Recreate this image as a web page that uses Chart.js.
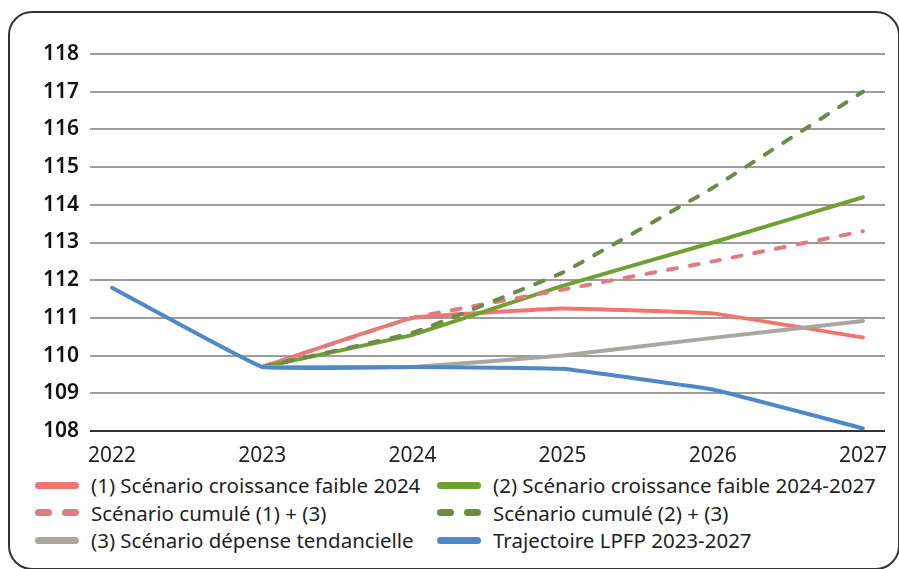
<!DOCTYPE html>
<html lang="fr">
<head>
<meta charset="UTF-8">
<title>Scénarios</title>
<script src="https://cdn.jsdelivr.net/npm/chart.js"></script>
<style>
  html, body { margin: 0; padding: 0; background: #fff; }
  body { width: 899px; height: 569px; position: relative; overflow: hidden; font-family: "Noto Sans", sans-serif; }
  .frame { position: absolute; left: 8px; top: 11px; width: 892px; height: 559px; border: 2.5px solid #333; border-radius: 24px; box-sizing: border-box; }
  #wrap { position: absolute; left: 0; top: 0; width: 899px; height: 471px; }
  .legend { position: absolute; left: 0; top: 472px; width: 899px; }
  .item { position: absolute; height: 26px; display: flex; align-items: center; font-size: 20.5px; color: #222; white-space: nowrap; }
  .sw { width: 44px; height: 7px; margin-right: 12px; display: flex; justify-content: space-between; }
  .sw span { height: 7px; border-radius: 4px; }
</style>
</head>
<body>
<div class="frame"></div>
<div id="wrap"><canvas id="chart"></canvas></div>
<div class="legend" id="legend"></div>
<script>
  // années et séries (indice)
  const years = [2022, 2023, 2024, 2025, 2026, 2027];
  const croissance2024 = [null, 109.7, 111.0, 111.25, 111.12, 110.48];
  const croissance2427 = [null, 109.7, 110.55, 111.85, 113.0, 114.2];
  const cumule13 = [null, 109.7, 111.0, 111.75, 112.5, 113.3];
  const cumule23 = [null, 109.7, 110.6, 112.2, 114.45, 117.0];
  const tendancielle = [null, 109.7, 109.7, 110.0, 110.47, 110.92];
  const lpfp = [111.8, 109.7, 109.7, 109.65, 109.1, 108.07];
  const yTicks = [108, 109, 110, 111, 112, 113, 114, 115, 116, 117, 118];

  const series = [
    { label: '(1) Scénario croissance faible 2024', data: croissance2024, color: '#ef7570', dash: false },
    { label: '(2) Scénario croissance faible 2024-2027', data: croissance2427, color: '#6fa032', dash: false },
    { label: 'Scénario cumulé (1) + (3)', data: cumule13, color: '#de7c82', dash: true },
    { label: 'Scénario cumulé (2) + (3)', data: cumule23, color: '#6f8a47', dash: true },
    { label: '(3) Scénario dépense tendancielle', data: tendancielle, color: '#aaa6a2', dash: false },
    { label: 'Trajectoire LPFP 2023-2027', data: lpfp, color: '#4e88c7', dash: false }
  ];

  const datasets = series.map((s, i) => ({
    label: s.label,
    data: years.map((x, j) => ({ x: x, y: s.data[j] })).filter(p => p.y !== null),
    borderColor: s.color,
    backgroundColor: s.color,
    borderWidth: 4,
    borderDash: s.dash ? [9, 13] : [],
    borderCapStyle: 'round',
    borderJoinStyle: 'round',
    pointRadius: 0,
    tension: 0.07,
    order: series.length - i
  }));

  new Chart(document.getElementById('chart'), {
    type: 'line',
    data: { datasets },
    options: {
      responsive: true,
      maintainAspectRatio: false,
      animation: false,
      layout: { padding: { top: 54, right: 14, left: 0, bottom: 0 } },
      plugins: { legend: { display: false }, tooltip: { enabled: false } },
      scales: {
        x: {
          type: 'linear',
          min: 2021.853,
          max: 2027.147,
          afterBuildTicks: s => { s.ticks = years.map(v => ({ value: v })); },
          afterFit: s => { s.height = 40; },
          grid: { display: false },
          border: { display: false },
          ticks: { callback: v => String(v), color: '#222', padding: 4, font: { family: 'Noto Sans', size: 21 } }
        },
        y: {
          min: 108,
          max: 118,
          afterBuildTicks: s => { s.ticks = yTicks.map(v => ({ value: v })); },
          afterFit: s => { s.width = 90; },
          border: { display: false },
          grid: {
            drawTicks: false,
            lineWidth: 2,
            color: c => c.tick && c.tick.value === 108 ? '#333' : '#9c9c9c'
          },
          ticks: { color: '#111', padding: 11, font: { family: 'Noto Sans', size: 21, weight: '600' } }
        }
      }
    }
  });

  // légende sur deux colonnes
  const cols = [35, 437];
  const rows = [472, 499.5, 527];
  const legend = document.getElementById('legend');
  series.forEach((s, i) => {
    const el = document.createElement('div');
    el.className = 'item';
    el.style.left = cols[i % 2] + 'px';
    el.style.top = (rows[Math.floor(i / 2)] - 472) + 'px';
    const sw = document.createElement('div');
    sw.className = 'sw';
    const parts = s.dash ? [17, 17] : [44];
    parts.forEach(w => {
      const p = document.createElement('span');
      p.style.width = w + 'px';
      p.style.background = s.color;
      sw.appendChild(p);
    });
    el.appendChild(sw);
    el.appendChild(document.createTextNode(s.label));
    legend.appendChild(el);
  });
</script>
</body>
</html>
